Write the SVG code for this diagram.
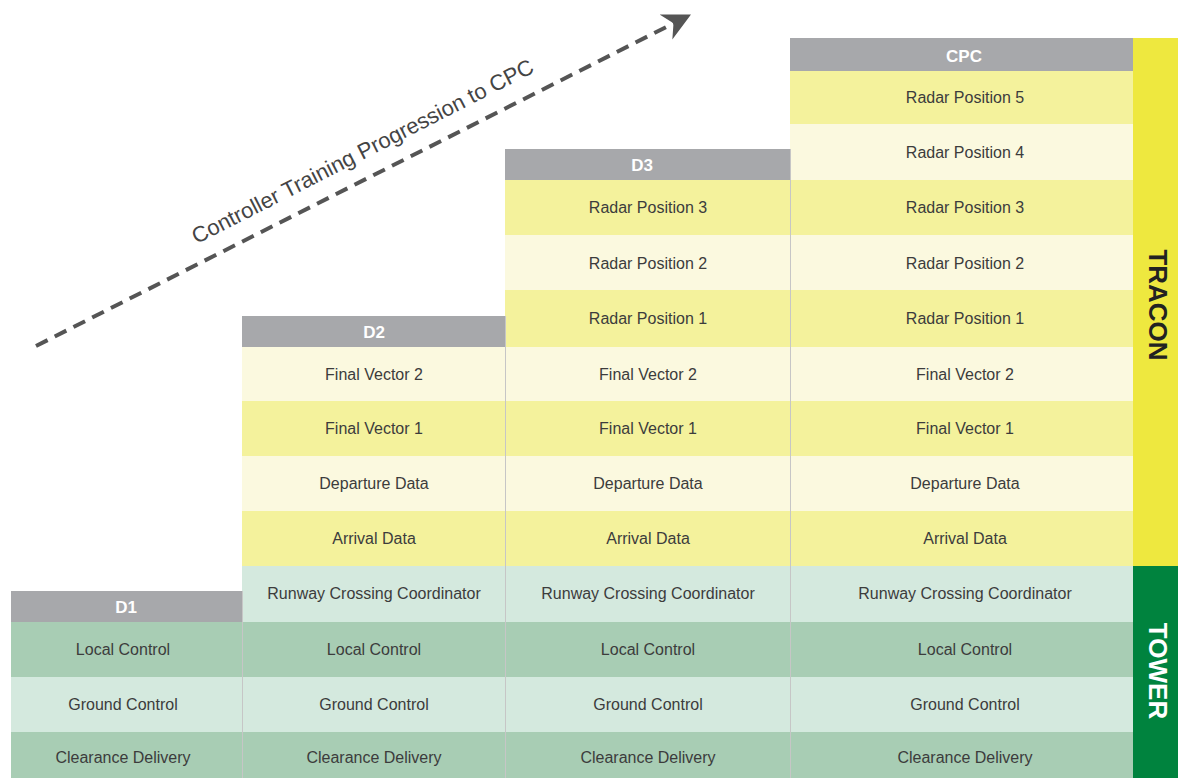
<svg xmlns="http://www.w3.org/2000/svg" width="1178" height="778" viewBox="0 0 1178 778">
<defs>
<style>
.h{fill:#a7a8ab}
.ht{fill:#fff;font-family:"Liberation Sans",Arial,sans-serif;font-weight:bold;font-size:17px;text-anchor:middle}
.t{fill:#3c3c3c;font-family:"Liberation Sans",Arial,sans-serif;font-size:16px;text-anchor:middle}
.yd{fill:#f4f29c}.yl{fill:#fbf9df}.gd{fill:#a8cdb4}.gl{fill:#d4e9de}
.sep{stroke:#c6c6c6;stroke-width:1}
.side{font-family:"Liberation Sans",Arial,sans-serif;font-weight:bold;font-size:26px;text-anchor:middle}
</style>
<marker id="ah" viewBox="0 0 10 10" refX="8" refY="5" markerWidth="7" markerHeight="7" orient="auto" markerUnits="strokeWidth">
<path d="M0,0 L10,5 L0,10 L3,5 Z" fill="#555"/>
</marker>
</defs>
<rect width="1178" height="778" fill="#fff"/>

<g id="d1">
<rect class="h" x="11" y="591" width="231" height="31"/>
<text class="ht" x="126" y="613">D1</text>
<rect class="gd" x="11" y="622" width="231" height="55"/><text class="t" x="123" y="655">Local Control</text>
<rect class="gl" x="11" y="677" width="231" height="55"/><text class="t" x="123" y="710">Ground Control</text>
<rect class="gd" x="11" y="732" width="231" height="46"/><text class="t" x="123" y="763">Clearance Delivery</text>
</g>

<g id="d2">
<rect class="h" x="242" y="316" width="263" height="31"/>
<text class="ht" x="374" y="338">D2</text>
<rect class="yl" x="242" y="347" width="263" height="54"/><text class="t" x="374" y="380">Final Vector 2</text>
<rect class="yd" x="242" y="401" width="263" height="55"/><text class="t" x="374" y="434">Final Vector 1</text>
<rect class="yl" x="242" y="456" width="263" height="55"/><text class="t" x="374" y="489">Departure Data</text>
<rect class="yd" x="242" y="511" width="263" height="55"/><text class="t" x="374" y="544">Arrival Data</text>
<rect class="gl" x="242" y="566" width="263" height="56"/><text class="t" x="374" y="599">Runway Crossing Coordinator</text>
<rect class="gd" x="242" y="622" width="263" height="55"/><text class="t" x="374" y="655">Local Control</text>
<rect class="gl" x="242" y="677" width="263" height="55"/><text class="t" x="374" y="710">Ground Control</text>
<rect class="gd" x="242" y="732" width="263" height="46"/><text class="t" x="374" y="763">Clearance Delivery</text>
</g>

<g id="d3">
<rect class="h" x="505" y="149" width="285" height="31"/>
<text class="ht" x="642" y="171">D3</text>
<rect class="yd" x="505" y="180" width="285" height="55"/><text class="t" x="648" y="213">Radar Position 3</text>
<rect class="yl" x="505" y="235" width="285" height="55"/><text class="t" x="648" y="269">Radar Position 2</text>
<rect class="yd" x="505" y="290" width="285" height="57"/><text class="t" x="648" y="324">Radar Position 1</text>
<rect class="yl" x="505" y="347" width="285" height="54"/><text class="t" x="648" y="380">Final Vector 2</text>
<rect class="yd" x="505" y="401" width="285" height="55"/><text class="t" x="648" y="434">Final Vector 1</text>
<rect class="yl" x="505" y="456" width="285" height="55"/><text class="t" x="648" y="489">Departure Data</text>
<rect class="yd" x="505" y="511" width="285" height="55"/><text class="t" x="648" y="544">Arrival Data</text>
<rect class="gl" x="505" y="566" width="285" height="56"/><text class="t" x="648" y="599">Runway Crossing Coordinator</text>
<rect class="gd" x="505" y="622" width="285" height="55"/><text class="t" x="648" y="655">Local Control</text>
<rect class="gl" x="505" y="677" width="285" height="55"/><text class="t" x="648" y="710">Ground Control</text>
<rect class="gd" x="505" y="732" width="285" height="46"/><text class="t" x="648" y="763">Clearance Delivery</text>
</g>

<g id="cpc">
<rect class="h" x="790" y="38" width="343" height="33"/>
<text class="ht" x="964" y="62">CPC</text>
<rect class="yd" x="790" y="71" width="343" height="53"/><text class="t" x="965" y="103">Radar Position 5</text>
<rect class="yl" x="790" y="124" width="343" height="56"/><text class="t" x="965" y="158">Radar Position 4</text>
<rect class="yd" x="790" y="180" width="343" height="55"/><text class="t" x="965" y="213">Radar Position 3</text>
<rect class="yl" x="790" y="235" width="343" height="55"/><text class="t" x="965" y="269">Radar Position 2</text>
<rect class="yd" x="790" y="290" width="343" height="57"/><text class="t" x="965" y="324">Radar Position 1</text>
<rect class="yl" x="790" y="347" width="343" height="54"/><text class="t" x="965" y="380">Final Vector 2</text>
<rect class="yd" x="790" y="401" width="343" height="55"/><text class="t" x="965" y="434">Final Vector 1</text>
<rect class="yl" x="790" y="456" width="343" height="55"/><text class="t" x="965" y="489">Departure Data</text>
<rect class="yd" x="790" y="511" width="343" height="55"/><text class="t" x="965" y="544">Arrival Data</text>
<rect class="gl" x="790" y="566" width="343" height="56"/><text class="t" x="965" y="599">Runway Crossing Coordinator</text>
<rect class="gd" x="790" y="622" width="343" height="55"/><text class="t" x="965" y="655">Local Control</text>
<rect class="gl" x="790" y="677" width="343" height="55"/><text class="t" x="965" y="710">Ground Control</text>
<rect class="gd" x="790" y="732" width="343" height="46"/><text class="t" x="965" y="763">Clearance Delivery</text>
</g>

<g id="separators">
<line class="sep" x1="242.5" y1="591" x2="242.5" y2="778"/>
<line class="sep" x1="505.5" y1="316" x2="505.5" y2="778"/>
<line class="sep" x1="790.5" y1="149" x2="790.5" y2="778"/>
</g>

<g id="tracon">
<rect x="1133" y="38" width="45" height="528" fill="#eee83f"/>
<text class="side" fill="#222" transform="translate(1149,305) rotate(90)">TRACON</text>
</g>
<g id="tower">
<rect x="1133" y="566" width="45" height="212" fill="#00833e"/>
<text class="side" fill="#fff" transform="translate(1149,671) rotate(90)">TOWER</text>
</g>

<g id="connectors">
<line x1="36" y1="346" x2="686" y2="17" stroke="#555" stroke-width="4" stroke-dasharray="13,8" marker-end="url(#ah)"/>
</g>
<text x="0" y="0" fill="#444" font-family="Liberation Sans,Arial,sans-serif" font-size="22" text-anchor="middle" transform="translate(366,158) rotate(-27)">Controller Training Progression to CPC</text>
</svg>
